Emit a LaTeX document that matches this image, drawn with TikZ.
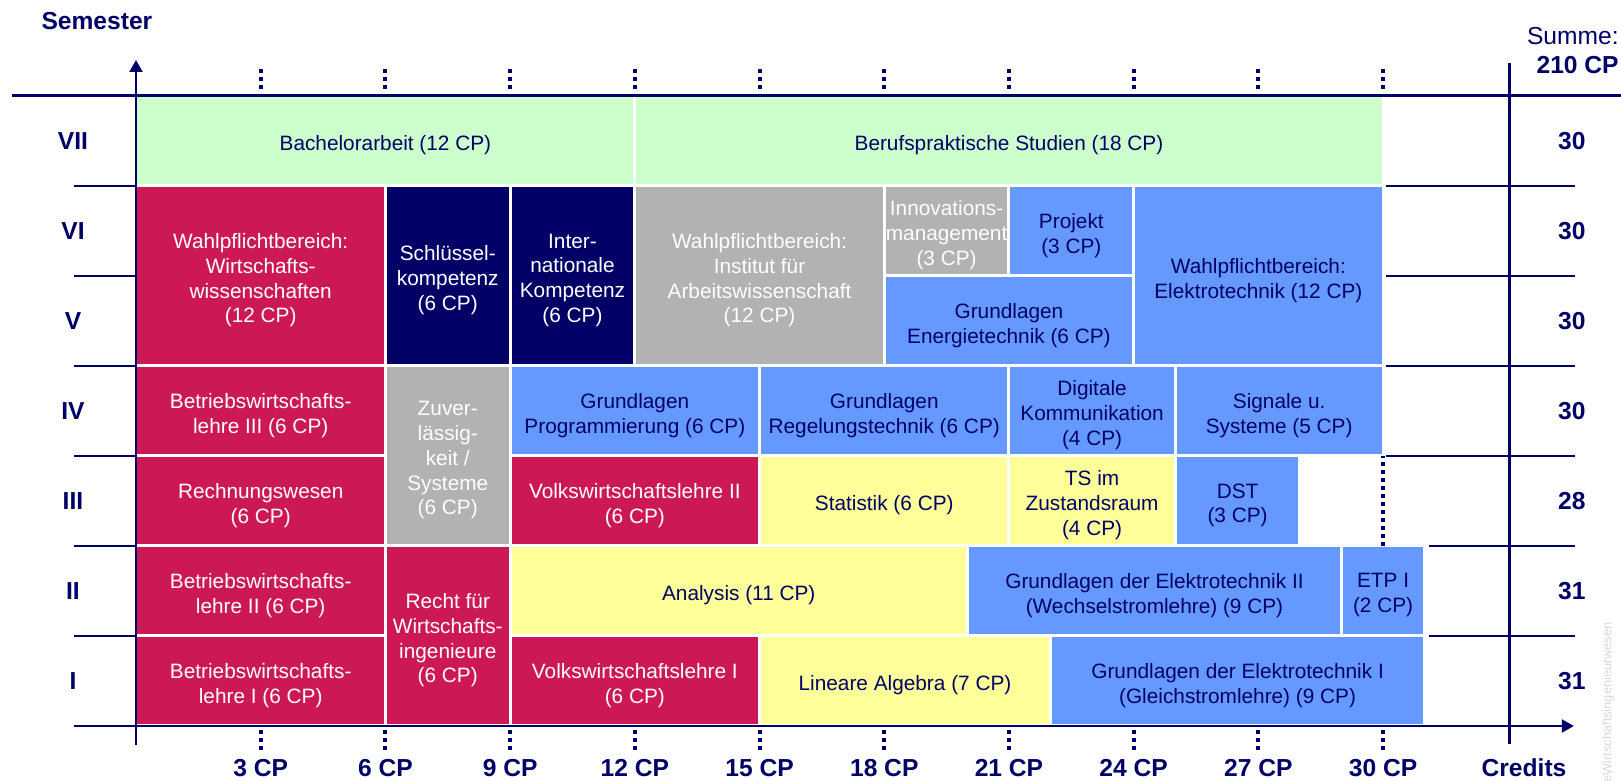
\documentclass[tikz,border=0pt]{standalone}
\usepackage{fontspec}
\setmainfont{Liberation Sans}
\usetikzlibrary{arrows.meta,calc}

\definecolor{wcrim}{RGB}{204,25,85}
\definecolor{wnavy}{RGB}{0,0,102}
\definecolor{wgray}{RGB}{178,178,178}
\definecolor{wblue}{RGB}{102,153,255}
\definecolor{wyell}{RGB}{255,255,153}
\definecolor{wgreen}{RGB}{204,255,204}

\newcommand{\boxfont}{\fontsize{10.4}{12.4}\selectfont}
\newcommand{\axfont}{\fontsize{12.3}{14}\selectfont\bfseries}
% module: colour key, name, lower left, upper right, text
\newcommand{\modul}[5]{%
  \path[#1box] (#3) rectangle (#4);
  \node[#1txt] (#2) at ($(#3)!0.5!(#4)$) {#5};}

\begin{document}
\begin{tikzpicture}[
    x=20.785pt, y=45pt,
    >={Triangle[length=6pt,width=6.5pt]},
    cellbox/.style={draw=white,line width=1.5pt},
    celltxt/.style={inner sep=0pt,align=center,font=\boxfont,yshift=-2.2pt},
    crimbox/.style={cellbox,fill=wcrim},   crimtxt/.style={celltxt,text=white},
    navybox/.style={cellbox,fill=wnavy},   navytxt/.style={celltxt,text=white},
    graybox/.style={cellbox,fill=wgray},   graytxt/.style={celltxt,text=white},
    bluebox/.style={cellbox,fill=wblue},   bluetxt/.style={celltxt,text=wnavy},
    yellbox/.style={cellbox,fill=wyell},   yelltxt/.style={celltxt,text=wnavy},
    greenbox/.style={cellbox,fill=wgreen}, greentxt/.style={celltxt,text=wnavy},
    axis/.style={wnavy,line width=1pt},
    rowline/.style={wnavy,line width=0.9pt},
    tickdots/.style={wnavy,line width=2pt,dash pattern=on 2pt off 2pt},
    lbl/.style={font=\axfont,text=wnavy,inner sep=1pt},
]
\useasboundingbox (-3.2716,-0.6111) rectangle (35.7234,8.0667);

% ---- semester VII ----
\modul{green}{bach}{0,6}{12,7}{Bachelorarbeit (12 CP)}
\modul{green}{beruf}{12,6}{30,7}{Berufspraktische Studien (18 CP)}

% ---- semester VI / V ----
\modul{crim}{wiwi}{0,4}{6,6}{Wahlpflichtbereich:\\Wirtschafts-\\wissenschaften\\(12 CP)}
\modul{navy}{schl}{6,4}{9,6}{Schlüssel-\\kompetenz\\(6 CP)}
\modul{navy}{intl}{9,4}{12,6}{Inter-\\nationale\\Kompetenz\\(6 CP)}
\modul{gray}{ifa}{12,4}{18,6}{Wahlpflichtbereich:\\Institut für\\Arbeitswissenschaft\\(12 CP)}
\modul{gray}{innov}{18,5}{21,6}{Innovations-\\management\\(3 CP)}
\modul{blue}{proj}{21,5}{24,6}{Projekt\\(3 CP)}
\modul{blue}{energ}{18,4}{24,5}{Grundlagen\\Energietechnik (6 CP)}
\modul{blue}{wpet}{24,4}{30,6}{Wahlpflichtbereich:\\Elektrotechnik (12 CP)}

% ---- semester IV / III ----
\modul{crim}{bwl3}{0,3}{6,4}{Betriebswirtschafts-\\lehre III (6 CP)}
\modul{gray}{zuv}{6,2}{9,4}{Zuver-\\lässig-\\keit /\\Systeme\\(6 CP)}
\modul{blue}{prog}{9,3}{15,4}{Grundlagen\\Programmierung (6 CP)}
\modul{blue}{regel}{15,3}{21,4}{Grundlagen\\Regelungstechnik (6 CP)}
\modul{blue}{digk}{21,3}{25,4}{Digitale\\Kommunikation\\(4 CP)}
\modul{blue}{sig}{25,3}{30,4}{Signale u.\\Systeme (5 CP)}
\modul{crim}{rewe}{0,2}{6,3}{Rechnungswesen\\(6 CP)}
\modul{crim}{vwl2}{9,2}{15,3}{Volkswirtschaftslehre II\\(6 CP)}
\modul{yell}{stat}{15,2}{21,3}{Statistik (6 CP)}
\modul{yell}{tsz}{21,2}{25,3}{TS im\\Zustandsraum\\(4 CP)}
\modul{blue}{dst}{25,2}{28,3}{DST\\(3 CP)}

% ---- semester II / I ----
\modul{crim}{bwl2}{0,1}{6,2}{Betriebswirtschafts-\\lehre II (6 CP)}
\modul{crim}{recht}{6,0}{9,2}{Recht für\\Wirtschafts-\\ingenieure\\(6 CP)}
\modul{yell}{ana}{9,1}{20,2}{Analysis (11 CP)}
\modul{blue}{get2}{20,1}{29,2}{Grundlagen der Elektrotechnik II\\(Wechselstromlehre) (9 CP)}
\modul{blue}{etp}{29,1}{31,2}{ETP I\\(2 CP)}
\modul{crim}{bwl1}{0,0}{6,1}{Betriebswirtschafts-\\lehre I (6 CP)}
\modul{crim}{vwl1}{9,0}{15,1}{Volkswirtschaftslehre I\\(6 CP)}
\modul{yell}{linalg}{15,0}{22,1}{Lineare Algebra (7 CP)}
\modul{blue}{get1}{22,0}{31,1}{Grundlagen der Elektrotechnik I\\(Gleichstromlehre) (9 CP)}

% ---- axes ----
\draw[axis,->] (0,-0.21) -- (0,7.4);
\draw[axis,->] (-1.49,0) -- (34.59,0);
\draw[wnavy,line width=1.5pt] (-2.98,7) -- (35.7234,7);
\draw[wnavy,line width=1.5pt] (33.03,-0.2) -- (33.03,7.37);

% ---- row separators ----
\foreach \r in {1,...,6}
  \draw[rowline] (-1.49,\r) -- (0,\r);
\foreach \r in {3,...,6}
  \draw[rowline] (30.07,\r) -- (34.62,\r);
\foreach \r in {1,2}
  \draw[rowline] (31.1,\r) -- (34.62,\r);

% ---- credit ticks ----
\foreach \c in {3,6,...,30} {
  \draw[tickdots] (\c,7.078) -- (\c,7.3);
  \draw[tickdots] (\c,-0.044) -- (\c,-0.267);
  \node[lbl] (cp\c) at (\c,-0.467) {\c~CP};
}
\draw[tickdots] (30,2) -- (30,3);

% ---- semester names and sums ----
\foreach \r/\n/\s in {1/I/31,2/II/31,3/III/28,4/IV/30,5/V/30,6/VI/30,7/VII/30} {
  \node[lbl] (sem\r) at (-1.516,\r-0.5) {\n};
  \node[lbl] (sum\r) at (34.54,\r-0.5) {\s};
}

% ---- axis titles ----
\node[lbl] (semtitle) at (-0.94,7.83) {Semester};
\node[lbl] (credits) at (33.39,-0.467) {Credits};
\node[lbl,anchor=east,font=\fontsize{12.3}{14}\selectfont] (summe) at (35.7234,7.667) {Summe:};
\node[lbl,anchor=east] (total) at (35.7234,7.344) {210 CP};

\node[rotate=90,anchor=east,inner sep=0pt,font=\fontsize{6.4}{7}\selectfont,text=black!15]
     (wmark) at (35.41,1.156) {eWirtschaftsingenieurwesen};

\end{tikzpicture}
\end{document}
